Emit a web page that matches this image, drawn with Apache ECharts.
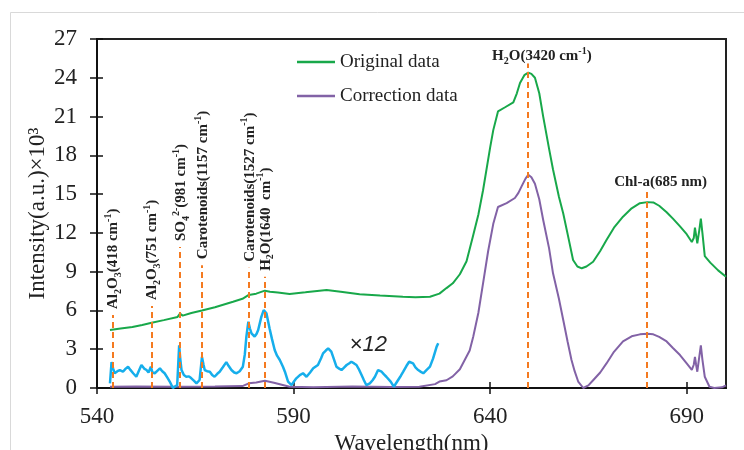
<!DOCTYPE html>
<html>
<head>
<meta charset="utf-8">
<script src="https://cdn.jsdelivr.net/npm/echarts@6/dist/echarts.min.js"></script>
<style>
  html, body { margin: 0; padding: 0; background: #fff; }
  #chart { width: 744px; height: 450px; }
</style>
</head>
<body>
<div id="chart"></div>
<script>
// x ticks / y ticks
const xTicks = [540, 590, 640, 690];
const yTicks = [0, 3, 6, 9, 12, 15, 18, 21, 24, 27];

// Original data (green)
const origX = [543.3, 546, 549, 551.5, 553.9, 557, 560.5, 561.1, 561.8, 564, 566.7, 570, 574.6, 577, 578.6, 580.5, 582.7, 584, 586, 589,
  593, 598.4, 602, 606.8, 612, 617.8, 621, 624.7, 627.1, 628.9, 630.5, 632.3, 634, 635.6, 637, 638.2, 640, 640.8, 642, 643.7,
  645.9, 646.8, 647.6, 648.7, 649.7, 650.5, 651.4, 652.5, 653.5, 655, 656, 657.5, 658.6, 660, 661.1, 662.2, 663.3, 664.5, 666.2, 668,
  669.6, 671.5, 673.8, 676, 678.1, 680, 681.5, 683, 684.9, 686.5, 688.3, 690, 691.3, 691.8, 692.1, 692.4, 692.7, 693.2, 693.6, 694,
  694.6, 696, 698, 700];
const origY = [4.49, 4.6, 4.72, 4.88, 5.05, 5.25, 5.5, 5.75, 5.6, 5.8, 6.0, 6.25, 6.67, 6.9, 7.2, 7.3, 7.53, 7.45, 7.38, 7.27,
  7.4, 7.58, 7.45, 7.25, 7.15, 7.06, 7.03, 7.06, 7.3, 7.73, 8.1, 8.8, 9.8, 11.7, 13.4, 15.3, 18.6, 19.95, 21.4, 21.7,
  22.1, 22.8, 23.6, 24.2, 24.4, 24.3, 24.0, 22.8, 21.0, 18.5, 16.9, 14.8, 13.5, 11.5, 9.9, 9.4, 9.26, 9.4, 9.77, 10.6,
  11.45, 12.4, 13.25, 13.9, 14.3, 14.38, 14.36, 14.1, 13.6, 13.1, 12.5, 11.9, 11.3, 11.6, 12.4, 11.8, 11.2, 12.2, 13.1, 12.0,
  10.2, 9.7, 9.1, 8.6];

// Correction data (purple)
const corrX = [543.3, 550, 560, 570, 577, 578.6, 580.5, 582.7, 585, 589, 595, 605, 615, 622, 626, 627.1, 628.9, 630.5, 632.3, 634.8,
  635.7, 637, 638.2, 639.5, 640.8, 642, 644.2, 646.3, 647.2, 648, 649, 649.7, 650.5, 651.4, 652.5, 653.5, 655, 656, 657.5, 658.6,
  659.7, 660.7, 661.5, 662.4, 663.7, 665, 666.2, 668, 669.6, 671.5, 673.8, 676, 678.1, 680, 681.5, 683, 684.9, 686.5, 688.3, 690,
  691.3, 691.8, 692.1, 692.4, 692.7, 693.2, 693.6, 694, 694.6, 695.8, 697, 699, 700];
const corrY = [0.1, 0.12, 0.1, 0.12, 0.15, 0.36, 0.42, 0.56, 0.4, 0.1, 0.05, 0.12, 0.08, 0.1, 0.3, 0.5, 0.6, 0.9, 1.45, 2.9,
  3.97, 5.8, 8.1, 10.6, 12.7, 14.0, 14.3, 14.7, 15.1, 15.6, 16.2, 16.5, 16.3, 15.8, 14.6, 13.0, 10.8, 8.87, 6.9, 5.26,
  3.6, 2.17, 1.3, 0.5, 0.0, 0.2, 0.6, 1.2, 1.9, 2.8, 3.6, 4.0, 4.15, 4.2, 4.15, 3.95, 3.6, 3.1, 2.55, 1.9,
  1.4, 1.8, 2.4, 1.8, 1.26, 2.4, 3.3, 2.2, 0.87, 0.1, 0.0, 0.05, 0.2];

// correction data x12 (blue)
const x12X = [543.3, 543.7, 544.1, 544.5, 545.2, 545.8, 546.6, 547.3, 547.9, 548.5, 549.2, 550, 550.6, 551.3, 552, 552.6, 553.1, 553.4, 553.7, 554.1,
  554.7, 555.4, 556, 556.6, 557.2, 557.9, 558.5, 559.3, 560.4, 560.9, 561.2, 561.5, 562.1, 562.7, 563.4, 564, 564.7, 565.3, 566.1, 566.7,
  567.1, 567.4, 568, 568.7, 569.3, 569.9, 570.6, 571.2, 572, 572.9, 573.5, 574.2, 574.9, 575.5, 576.3, 577.1, 577.6, 578, 578.5, 578.9,
  579.3, 580.1, 580.6, 581, 581.8, 582.4, 583.1, 583.9, 584.5, 585.2, 585.8, 586.5, 587.3, 587.8, 588.6, 589.5, 590.1, 590.7, 591.6, 592.4,
  593.3, 594.2, 595, 596.2, 597, 597.5, 598.2, 598.8, 599.6, 600.3, 600.9, 601.6, 602.2, 602.9, 603.5, 604.1, 604.7, 605.4, 606, 606.7,
  607.3, 607.9, 608.5, 609.4, 610.1, 610.7, 611.5, 612.4, 613, 613.6, 614.7, 615.5, 616.6, 617.3, 617.9, 618.7, 619.4, 620.4, 621, 621.7,
  622.4, 623, 623.8, 624.7, 625.5, 626.4, 626.8];
const x12Y = [0.36, 2.0, 1.5, 1.14, 1.3, 1.39, 1.26, 1.5, 1.65, 1.4, 1.14, 0.87, 1.3, 1.78, 1.5, 1.39, 1.2, 1.14, 1.65, 1.2,
  1.14, 1.35, 1.52, 1.3, 1.14, 0.8, 0.5, 0.0, 0.23, 3.3, 2.2, 1.39, 1.0, 0.87, 0.9, 0.75, 0.55, 0.36, 0.62, 2.4,
  1.8, 1.39, 1.3, 1.26, 1.0, 0.87, 1.1, 1.26, 1.6, 2.0, 1.7, 1.39, 1.2, 1.14, 1.3, 1.65, 2.6, 3.97, 5.13, 4.6,
  4.23, 3.97, 4.2, 4.49, 5.5, 6.03, 5.78, 4.6, 3.8, 2.94, 2.5, 2.17, 1.65, 1.26, 0.5, 0.23, 0.5, 0.75, 1.0, 1.14,
  0.87, 1.2, 1.52, 1.78, 2.3, 2.68, 2.9, 3.07, 2.81, 2.2, 1.65, 1.5, 1.39, 1.6, 1.78, 1.9, 2.03, 1.9, 1.78, 1.4,
  1.0, 0.6, 0.23, 0.36, 0.6, 0.87, 1.39, 1.26, 1.05, 0.87, 0.5, 0.1, 0.62, 0.95, 1.26, 1.7, 2.03, 1.9, 1.6, 1.39,
  1.25, 1.14, 1.39, 1.65, 2.29, 3.2, 3.46];

// peak markers
const peakWl = [543.9, 553.8, 561.1, 566.7, 578.6, 582.7, 649.6, 679.8];
const peakTop = [5.65, 6.34, 10.9, 9.5, 9.3, 8.6, 25.1, 15.4];
const peakText = [
  'Al{sub|2}O{sub|3}(418 cm{sup|-1})',
  'Al{sub|2}O{sub|3}(751 cm{sup|-1})',
  'SO{sub|4}{sup|2-}(981 cm{sup|-1})',
  'Carotenoids(1157 cm{sup|-1})',
  'Carotenoids(1527 cm{sup|-1})',
  'H{sub|2}O(1640  cm{sup|-1})',
  'H{sub|2}O(3420 cm{sup|-1})',
  'Chl-a(685 nm)'
];
const peakVertical = [true, true, true, true, true, true, false, false];

const scaleNote = { text: '×12', x: 609, y: 3.3 };

const zip = (xs, ys) => xs.map((x, i) => [x, ys[i]]);

const serif = '"Liberation Serif", "DejaVu Serif", serif';
const chart = echarts.init(document.getElementById('chart'), null, { renderer: 'canvas' });

const axisX = {
  type: 'value', min: 540, max: 700, interval: 50,
  axisLine: { show: true, lineStyle: { color: '#111', width: 2 } },
  splitLine: { show: false }
};
const axisY = {
  type: 'value', min: 0, max: 27, interval: 3,
  axisLine: { show: true, lineStyle: { color: '#111', width: 2 } },
  splitLine: { show: false }
};

chart.setOption({
  animation: false,
  backgroundColor: '#fff',
  grid: {
    left: 97, right: 18, top: 39, bottom: 62, outerBoundsMode: 'none', containLabel: false,
    show: true, borderColor: '#222', borderWidth: 2, backgroundColor: 'transparent'
  },
  legend: {
    data: ['Original data', 'Correction data'],
    orient: 'vertical', left: 297, top: 51, padding: 0,
    icon: 'rect', itemWidth: 38, itemHeight: 2.5, itemGap: 12,
    textStyle: { fontFamily: serif, fontSize: 19, color: '#222', lineHeight: 22 }
  },
  xAxis: [
    Object.assign({}, axisX, {
      position: 'bottom',
      name: 'Wavelength(nm)', nameLocation: 'middle', nameGap: 42,
      nameTextStyle: { fontFamily: serif, fontSize: 23, color: '#222' },
      axisTick: { show: true, inside: false, length: 6, customValues: xTicks, lineStyle: { color: '#111', width: 1.5 } },
      axisLabel: { customValues: xTicks, margin: 17, fontFamily: serif, fontSize: 23, color: '#222' }
    }),
    Object.assign({}, axisX, {
      position: 'bottom',
      axisLine: { show: false },
      axisTick: { show: true, inside: true, length: 6, customValues: xTicks, lineStyle: { color: '#111', width: 1.5 } },
      axisLabel: { show: false }
    })
  ],
  yAxis: [
    Object.assign({}, axisY, {
      position: 'left',
      name: 'Intensity(a.u.)×10³', nameLocation: 'middle', nameGap: 48, nameMoveOverlap: false,
      nameTextStyle: { fontFamily: serif, fontSize: 23, color: '#222' },
      axisTick: { show: true, inside: false, length: 7, customValues: yTicks, lineStyle: { color: '#111', width: 1.5 } },
      axisLabel: { customValues: yTicks, margin: 20, fontFamily: serif, fontSize: 23, color: '#222' }
    }),
    Object.assign({}, axisY, {
      position: 'left',
      axisLine: { show: false },
      axisTick: { show: true, inside: true, length: 6, customValues: yTicks, lineStyle: { color: '#111', width: 1.5 } },
      axisLabel: { show: false }
    })
  ],
  series: [
    {
      name: 'Original data', type: 'line', symbol: 'none', data: zip(origX, origY),
      color: '#18A84A', lineStyle: { width: 2, color: '#18A84A' }
    },
    {
      name: 'Correction data', type: 'line', symbol: 'none', data: zip(corrX, corrY),
      color: '#8262A6', lineStyle: { width: 2, color: '#8262A6' }
    },
    {
      name: 'x12', type: 'line', symbol: 'none', data: zip(x12X, x12Y),
      color: '#16AEEB', lineStyle: { width: 2.5, color: '#16AEEB' }
    },
    {
      name: 'peaks', type: 'line', data: [],
      markLine: {
        silent: true, symbol: ['none', 'none'], label: { show: false },
        lineStyle: { color: '#F47A20', type: [6, 4], width: 2 },
        data: peakWl.map((w, i) => [{ coord: [w, 0] }, { coord: [w, peakTop[i]] }])
      }
    }
  ]
});

// 标注文字
const rich = {
  sub: { fontSize: 10, fontWeight: 'bold', fontFamily: serif, verticalAlign: 'bottom', lineHeight: 10, fill: '#222' },
  sup: { fontSize: 10, fontWeight: 'bold', fontFamily: serif, verticalAlign: 'top', lineHeight: 10, fill: '#222' }
};
const graphics = [{
  type: 'rect', silent: true, z: -10,
  shape: { x: 10.5, y: 12.5, width: 800, height: 500 },
  style: { fill: 'none', stroke: '#d9d9d9', lineWidth: 1 }
}];
peakWl.forEach((w, i) => {
  const p = chart.convertToPixel({ gridIndex: 0 }, [w, peakTop[i]]);
  const base = {
    text: peakText[i], rich: rich, fill: '#222',
    fontFamily: serif, fontWeight: 'bold', fontSize: 15, lineHeight: 20
  };
  if (peakVertical[i]) {
    graphics.push({
      type: 'text', x: p[0] + 1, y: p[1] - 6, rotation: Math.PI / 2,
      style: Object.assign(base, { align: 'left', verticalAlign: 'middle' })
    });
  } else {
    graphics.push({
      type: 'text', x: p[0] + 14, y: p[1] + 3,
      style: Object.assign(base, { align: 'center', verticalAlign: 'bottom' })
    });
  }
});
const np = chart.convertToPixel({ gridIndex: 0 }, [scaleNote.x, scaleNote.y]);
graphics.push({
  type: 'text', x: np[0], y: np[1],
  style: {
    text: scaleNote.text, fill: '#222', align: 'center', verticalAlign: 'middle',
    fontFamily: '"Liberation Sans", Arial, sans-serif', fontStyle: 'italic', fontSize: 22
  }
});
chart.setOption({ graphic: graphics });
</script>
</body>
</html>
